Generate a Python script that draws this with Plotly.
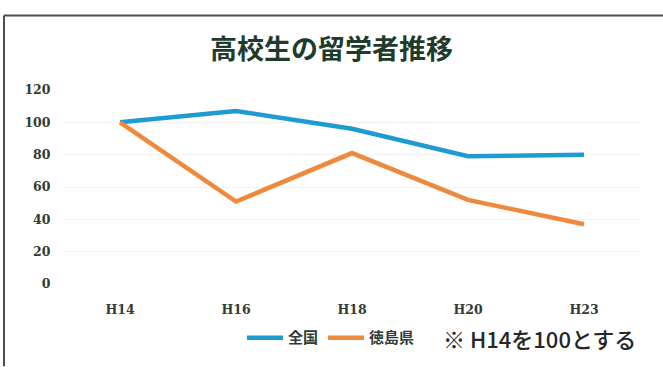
import plotly.graph_objects as go

# 年度（平成）
years = ["H14", "H16", "H18", "H20", "H23"]
# H14 を 100 とした指数
zenkoku = [100, 107, 96, 79, 80]
tokushima = [100, 51, 81, 52, 37]
y_ticks = [0, 20, 40, 60, 80, 100, 120]

W, H = 663, 367
ML, MR, MT, MB = 62, 21, 90, 79

tick_font = dict(family="DejaVu Serif", size=12.5, color="#2f3d35", weight="bold")

fig = go.Figure()
fig.add_trace(go.Scatter(
    x=years, y=zenkoku, name="全国", mode="lines",
    line=dict(color="#1f9bd4", width=4.5),
))
fig.add_trace(go.Scatter(
    x=years, y=tokushima, name="徳島県", mode="lines",
    line=dict(color="#ef8a3c", width=4.5),
))

pw = W - ML - MR
ph = H - MT - MB


def px_x(p):
    return (p - ML) / pw


def px_y(p):
    return (H - MB - p) / ph


# 外枠（左と上）
frame = dict(color="#4a4f4c", width=2)
fig.add_shape(type="line", xref="paper", yref="paper",
              x0=px_x(4), x1=px_x(W + 5), y0=px_y(14), y1=px_y(14), line=frame)
fig.add_shape(type="line", xref="paper", yref="paper",
              x0=px_x(4), x1=px_x(4), y0=px_y(14), y1=px_y(H + 5), line=frame)

fig.add_annotation(
    text="※ H14を100とする", xref="paper", yref="paper",
    x=px_x(441), y=px_y(343), xanchor="left", yanchor="middle",
    showarrow=False,
    font=dict(family="Noto Sans CJK JP", size=22, color="#262626", weight=500),
)

fig.update_layout(
    width=W, height=H,
    margin=dict(l=ML, r=MR, t=MT, b=MB),
    paper_bgcolor="white", plot_bgcolor="white",
    title=dict(
        text="<b>高校生の留学者推移</b>", x=0.5, xref="container", xanchor="center",
        y=1 - 50 / H, yanchor="middle",
        font=dict(family="Noto Sans CJK JP", size=27, color="#1f3b2c"),
    ),
    xaxis=dict(
        type="category", range=[-0.5, 4.5], showgrid=False, zeroline=False,
        showline=False, ticks="outside", ticklen=14, tickcolor="rgba(0,0,0,0)",
        tickfont=tick_font,
    ),
    yaxis=dict(
        range=[0, 120], tickvals=y_ticks, showgrid=True, gridcolor="#f2f2f2",
        zeroline=False, showline=False, ticks="outside", ticklen=8,
        tickcolor="rgba(0,0,0,0)", tickfont=tick_font,
    ),
    showlegend=True,
    legend=dict(
        orientation="h", x=px_x(242), y=px_y(343), xanchor="left",
        yanchor="middle", itemwidth=36, tracegroupgap=0,
        font=dict(family="Noto Sans CJK JP", size=15, color="#2f3d35", weight="bold"),
        bgcolor="rgba(0,0,0,0)",
    ),
)

fig.write_html("out.html")
